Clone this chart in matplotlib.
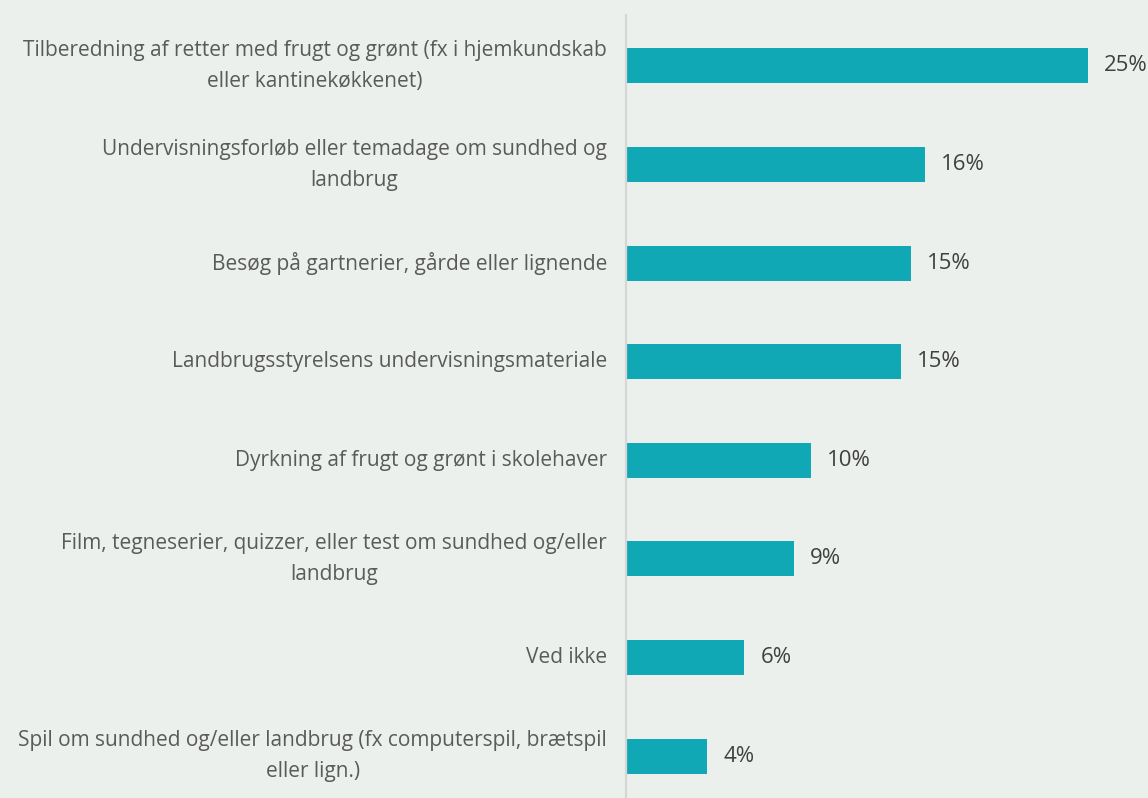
import matplotlib
matplotlib.use("Agg")
import matplotlib.pyplot as plt

# Survey answers (percent)
labels = [
    "Tilberedning af retter med frugt og grønt (fx i hjemkundskab\neller kantinekøkkenet)",
    "Undervisningsforløb eller temadage om sundhed og\nlandbrug",
    "Besøg på gartnerier, gårde eller lignende",
    "Landbrugsstyrelsens undervisningsmateriale",
    "Dyrkning af frugt og grønt i skolehaver",
    "Film, tegneserier, quizzer, eller test om sundhed og/eller\nlandbrug",
    "Ved ikke",
    "Spil om sundhed og/eller landbrug (fx computerspil, brætspil\neller lign.)",
]
values = [25.0, 16.2, 15.4, 14.9, 10.0, 9.1, 6.4, 4.4]
value_labels = ["25%", "16%", "15%", "15%", "10%", "9%", "6%", "4%"]

bg = "#ECF0EC"
bar_color = "#11A8B6"

plt.rcParams["font.family"] = ["Open Sans", "DejaVu Sans"]

W, H = 1148, 798
fig = plt.figure(figsize=(W / 100, H / 100), dpi=100, facecolor=bg)
ax = fig.add_axes([626 / W, 0, (W - 626) / W, (H - 15) / H])
ax.set_facecolor(bg)

pos = list(range(len(values)))
ax.barh(pos, values, height=0.355, color=bar_color, zorder=2)

ax.set_xlim(0, 28.25)
ax.set_ylim(7.426, -0.517)

for s in ["top", "right", "bottom"]:
    ax.spines[s].set_visible(False)
ax.spines["left"].set_color("#D6D6D6")
ax.spines["left"].set_linewidth(1.6)
ax.set_xticks([])
ax.set_yticks([])

# category labels, right aligned against the axis, lines centred
for y, lab in zip(pos, labels):
    ax.annotate(lab, xy=(0, y), xytext=(-19, 0), textcoords="offset pixels",
                ha="right", va="center", ma="center", fontsize=15,
                color="#5A5A5A", linespacing=1.62, annotation_clip=False)

# value labels at the bar ends
for y, v, t in zip(pos, values, value_labels):
    ax.annotate(t, xy=(v, y), xytext=(16, 0), textcoords="offset pixels",
                ha="left", va="center", fontsize=16, color="#404040",
                annotation_clip=False)

fig.savefig("out.png", dpi=100, facecolor=bg)
